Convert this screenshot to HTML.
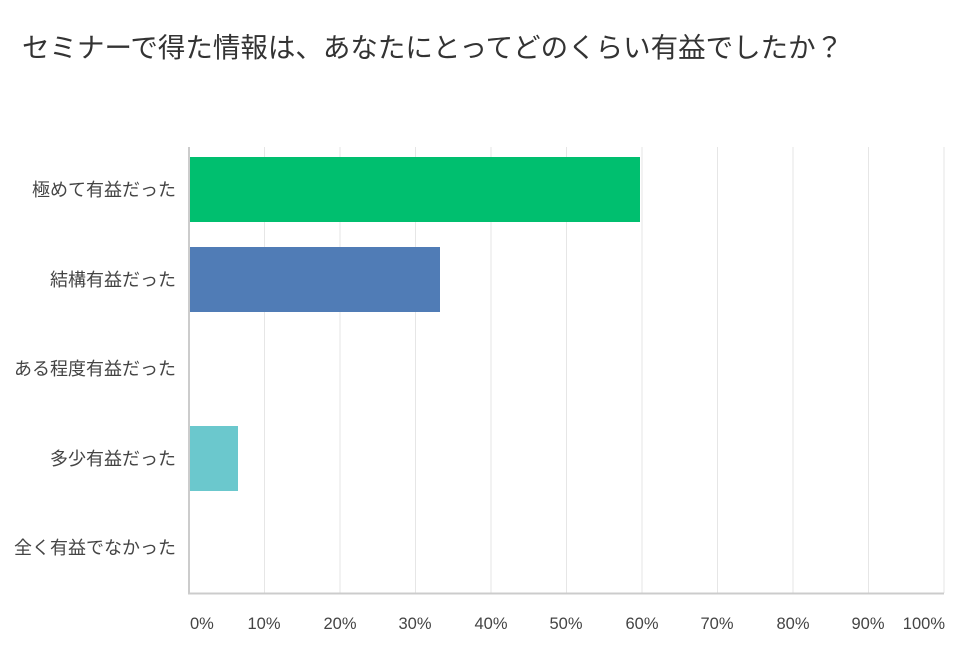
<!DOCTYPE html>
<html><head><meta charset="utf-8"><style>
body{margin:0;background:#fff;width:960px;height:663px;overflow:hidden;font-family:"Liberation Sans","Noto Sans CJK JP",sans-serif;}
</style></head><body>
<svg width="960" height="663" xmlns="http://www.w3.org/2000/svg" font-family="Liberation Sans, Noto Sans CJK JP, sans-serif">
<text x="22" y="57" font-size="27.5" fill="#333">セミナーで得た情報は、あなたにとってどのくらい有益でしたか？</text>
<g stroke="#e6e6e6" stroke-width="1">
<line x1="264.5" y1="147" x2="264.5" y2="593"/><line x1="340" y1="147" x2="340" y2="593"/>
<line x1="415.5" y1="147" x2="415.5" y2="593"/><line x1="491" y1="147" x2="491" y2="593"/>
<line x1="566.5" y1="147" x2="566.5" y2="593"/><line x1="642" y1="147" x2="642" y2="593"/>
<line x1="717.5" y1="147" x2="717.5" y2="593"/><line x1="793" y1="147" x2="793" y2="593"/>
<line x1="868.5" y1="147" x2="868.5" y2="593"/><line x1="944" y1="147" x2="944" y2="593"/>
</g>
<rect x="189" y="157" width="451" height="65" fill="#00bf6f"/>
<rect x="189" y="247" width="251" height="65" fill="#507cb6"/>
<rect x="189" y="426" width="49" height="65" fill="#6bc8cd"/>
<line x1="189" y1="147" x2="189" y2="594" stroke="#ccc" stroke-width="2"/>
<line x1="188" y1="593.5" x2="944" y2="593.5" stroke="#ccc" stroke-width="2"/>
<g font-size="18" fill="#444" text-anchor="end">
<text x="176" y="196">極めて有益だった</text>
<text x="176" y="286">結構有益だった</text>
<text x="176" y="375">ある程度有益だった</text>
<text x="176" y="465">多少有益だった</text>
<text x="176" y="554">全く有益でなかった</text>
</g>
<g font-size="16.5" fill="#444" text-anchor="middle">
<text x="190" y="629" text-anchor="start">0%</text>
<text x="264" y="629">10%</text><text x="340" y="629">20%</text>
<text x="415" y="629">30%</text><text x="491" y="629">40%</text>
<text x="566" y="629">50%</text><text x="642" y="629">60%</text>
<text x="717" y="629">70%</text><text x="793" y="629">80%</text>
<text x="868" y="629">90%</text><text x="945" y="629" text-anchor="end">100%</text>
</g>
</svg>
</body></html>
